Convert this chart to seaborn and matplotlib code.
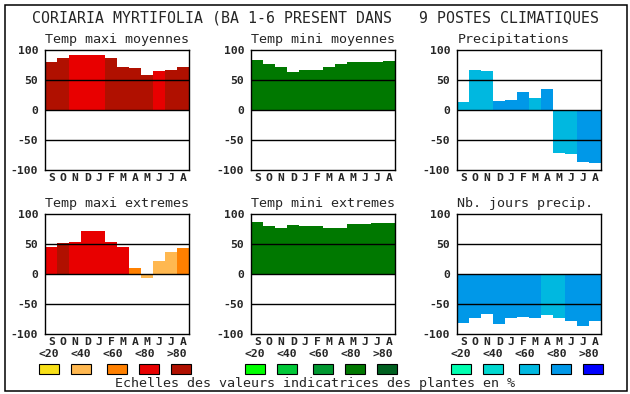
import numpy as np
import pandas as pd
import matplotlib
matplotlib.use("Agg")
import matplotlib.pyplot as plt
from matplotlib.patches import Rectangle
import seaborn as sns

# === Data ===
months = ["S", "O", "N", "D", "J", "F", "M", "A", "M", "J", "J", "A"]
scale_labels = ["<20", "<40", "<60", "<80", ">80"]

tmax_moy = [80, 87, 91, 91, 92, 87, 72, 70, 58, 65, 67, 72]
tmax_moy_lvl = [">80", ">80", "<80", "<80", "<80", ">80", ">80", ">80", ">80", "<80", ">80", ">80"]

tmin_moy = [84, 77, 72, 64, 67, 67, 72, 76, 80, 80, 80, 82]
tmin_moy_lvl = ["<80"] * 12

precip = [14, 67, 65, 15, 17, 30, 20, 35, -71, -74, -86, -88]
precip_lvl = ["<60", "<60", "<60", "<80", "<80", "<80", "<60", "<80", "<60", "<60", "<80", "<80"]

tmax_ext = [45, 52, 54, 72, 72, 54, 45, 10, -6, 22, 37, 44]
tmax_ext_lvl = ["<80", ">80", "<80", "<80", "<80", "<80", "<80", "<60", "<40", "<40", "<40", "<60"]

tmin_ext = [87, 80, 77, 82, 80, 80, 77, 77, 84, 84, 85, 85]
tmin_ext_lvl = ["<80"] * 12

jours = [-81, -73, -66, -83, -73, -71, -73, -68, -74, -78, -86, -78]
jours_lvl = ["<80", "<80", "<80", "<80", "<80", "<80", "<80", "<60", "<60", "<80", "<80", "<80"]

red_colors = ["#F8E018", "#FFB850", "#FF8000", "#E80000", "#B01000"]
green_colors = ["#00FF00", "#00C838", "#009830", "#007800", "#006020"]
blue_colors = ["#00FFB0", "#00D8D0", "#00B8E0", "#0098E8", "#0000FF"]

sns.set_style("white")
plt.rcParams["font.family"] = ["DejaVu Sans Mono"]
plt.rcParams["axes.unicode_minus"] = False

W, H = 630, 394
fig = plt.figure(figsize=(W / 100, H / 100), dpi=100)

# overlay in pixel coords for frame and legend
ov = fig.add_axes([0, 0, 1, 1])
ov.set_xlim(0, W)
ov.set_ylim(H, 0)
ov.axis("off")
ov.add_patch(Rectangle((4.5, 4.5), 622, 386, fill=False, lw=1.1, ec="black"))
ov.text(315, 18, "CORIARIA MYRTIFOLIA (BA 1-6 PRESENT DANS   9 POSTES CLIMATIQUES",
        ha="center", va="center", fontsize=10.7)
ov.text(315, 383, "Echelles des valeurs indicatrices des plantes en %",
        ha="center", va="center", fontsize=9.6)

col_left = [45.3, 251.3, 457.3]
row_top = [50, 214]
ax_w, ax_h = 144, 120

# === Legend scales ===
lab_off = [3.7, 35.7, 67.7, 99.7, 131.7]
box_off = [3.7, 35.7, 71.7, 103.7, 135.7]
for x0, colors in zip(col_left, [red_colors, green_colors, blue_colors]):
    for i, (lab, c) in enumerate(zip(scale_labels, colors)):
        ov.text(x0 + lab_off[i], 354, lab, ha="center", va="center",
                fontsize=8.2, fontweight="bold")
        ov.add_patch(Rectangle((x0 + box_off[i] - 10, 364), 20, 9.5,
                               fc=c, ec="black", lw=0.8))


def draw_panel(ax, values, levels, colors, title):
    df = pd.DataFrame({"pos": range(len(values)), "val": values, "lvl": levels})
    pal = dict(zip(scale_labels, colors))
    sns.barplot(data=df, x="pos", y="val", hue="lvl", palette=pal, dodge=False,
                width=1.0, saturation=1, linewidth=0, legend=False, ax=ax)
    for yv in [-50, 0, 50]:
        ax.axhline(yv, color="black", lw=1.0, zorder=3)
    ax.set_ylim(-100, 100)
    ax.set_xlim(-0.5, 11.5)
    ax.set_yticks([-100, -50, 0, 50, 100])
    ax.set_xticks(range(12))
    ax.set_xticklabels(months)
    ax.tick_params(axis="y", length=0, pad=5, labelsize=8.2)
    ax.tick_params(axis="x", length=0, pad=2, labelsize=8.2)
    for t in ax.get_xticklabels() + ax.get_yticklabels():
        t.set_fontweight("bold")
    ax.set_xlabel("")
    ax.set_ylabel("")
    for s in ax.spines.values():
        s.set_color("black")
        s.set_linewidth(1.0)
    ax.set_title(title, loc="left", pad=5, fontsize=9.6)


panels = [
    (0, 0, tmax_moy, tmax_moy_lvl, red_colors, "Temp maxi moyennes"),
    (0, 1, tmin_moy, tmin_moy_lvl, green_colors, "Temp mini moyennes"),
    (0, 2, precip, precip_lvl, blue_colors, "Precipitations"),
    (1, 0, tmax_ext, tmax_ext_lvl, red_colors, "Temp maxi extremes"),
    (1, 1, tmin_ext, tmin_ext_lvl, green_colors, "Temp mini extremes"),
    (1, 2, jours, jours_lvl, blue_colors, "Nb. jours precip."),
]

for r, c, vals, lvls, cols, title in panels:
    left = col_left[c] / W
    bottom = (H - row_top[r] - ax_h) / H
    ax = fig.add_axes([left, bottom, ax_w / W, ax_h / H])
    draw_panel(ax, vals, lvls, cols, title)

fig.savefig("out.png", dpi=100)
